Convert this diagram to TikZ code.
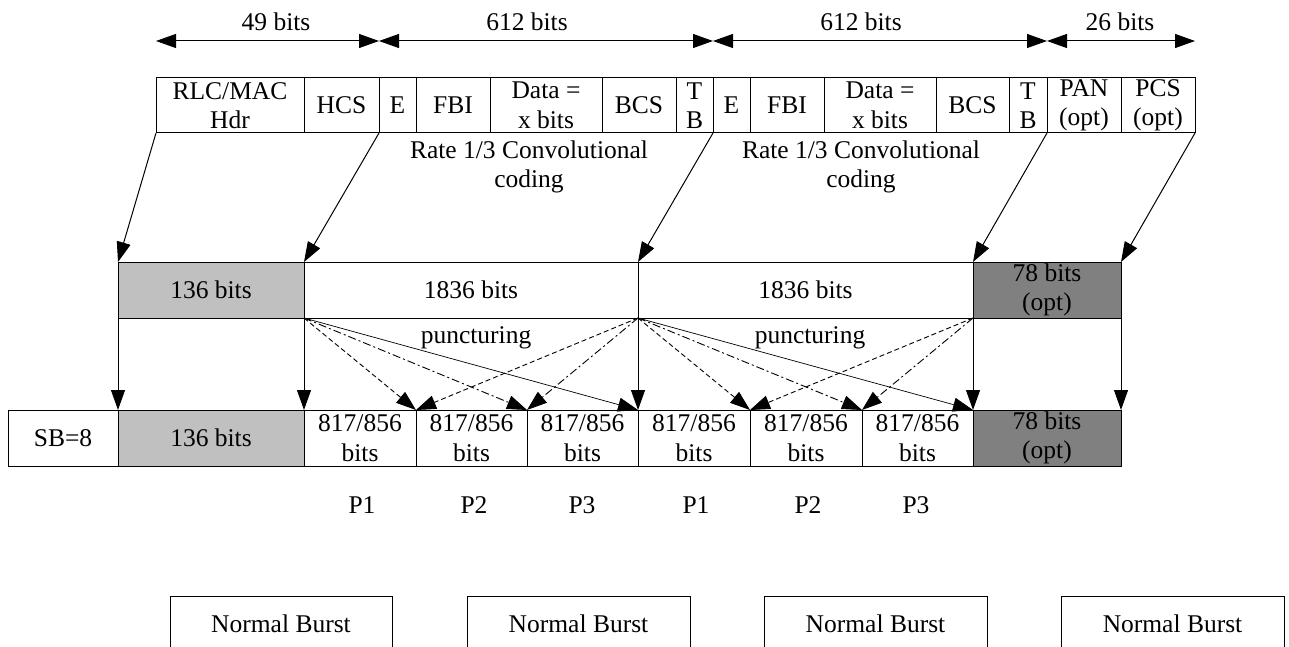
\documentclass[tikz,border=0pt]{standalone}
\usepackage{fontspec}
\setmainfont{Liberation Serif}
\usetikzlibrary{arrows.meta}
\definecolor{lgray}{HTML}{C0C0C0}
\definecolor{dgray}{HTML}{808080}
\newcommand{\mkcell}[7]{\node[cell,#1,minimum width={#4-#3},minimum height={#6-#5}] (#2) at ({(#3+#4)/2},{(#5+#6)/2}) {#7};}
\begin{document}
\begin{tikzpicture}[x=1pt,y=-1pt,
  every node/.style={font=\fontsize{25.5}{29.5}\selectfont},
  cell/.style={draw,line width=1pt,inner sep=0pt,outer sep=0pt,align=center},
  lbl/.style={inner sep=0pt,align=center},
  arr/.style={-{Triangle[length=20pt,width=14pt]},line width=1pt},
  dimarr/.style={{Triangle[length=20pt,width=14pt]}-{Triangle[length=20pt,width=14pt]},line width=1pt},
  dsh/.style={arr,line width=0.9pt,dash pattern=on 5pt off 3pt},
  dshdot/.style={arr,line width=0.9pt,dash pattern=on 8pt off 3pt on 2pt off 3pt},
  thinl/.style={arr,line width=0.7pt}]
\useasboundingbox (0,0) rectangle (1289,647);
\clip (0,0) rectangle (1289,647);
% top row
\mkcell{}{rlc}{156}{304}{78}{133}{RLC/MAC\\Hdr}
\mkcell{}{hcs}{304}{379}{78}{133}{HCS}
\mkcell{}{ea}{379}{416}{78}{133}{E}
\mkcell{}{fbia}{416}{490}{78}{133}{FBI}
\mkcell{}{dataa}{490}{602}{78}{133}{Data =\\x bits}
\mkcell{}{bcsa}{602}{676}{78}{133}{BCS}
\mkcell{}{tba}{676}{713}{78}{133}{T\\B}
\mkcell{}{eb}{713}{750}{78}{133}{E}
\mkcell{}{fbib}{750}{824}{78}{133}{FBI}
\mkcell{}{datab}{824}{936}{78}{133}{Data =\\x bits}
\mkcell{}{bcsb}{936}{1009}{78}{133}{BCS}
\mkcell{}{tbb}{1009}{1047}{78}{133}{T\\B}
\mkcell{}{pan}{1047}{1121}{78}{133}{PAN\\(opt)}
\mkcell{}{pcs}{1121}{1195}{78}{133}{PCS\\(opt)}
% dimension lines
\coordinate (d0) at (156,41);
\coordinate (d1) at (379,41);
\coordinate (d2) at (713,41);
\coordinate (d3) at (1047,41);
\coordinate (d4) at (1195,41);
\draw[dimarr] (d0) -- (d1);
\draw[dimarr] (d1) -- (d2);
\draw[dimarr] (d2) -- (d3);
\draw[dimarr] (d3) -- (d4);
\node[lbl] (l49) at (276,22) {49 bits};
\node[lbl] (l612a) at (527,22) {612 bits};
\node[lbl] (l612b) at (861,22) {612 bits};
\node[lbl] (l26) at (1120,22) {26 bits};
\node[lbl] (ratea) at (529,167) {Rate 1/3 Convolutional\\coding};
\node[lbl] (rateb) at (861,167) {Rate 1/3 Convolutional\\coding};
% middle row
\mkcell{fill=lgray}{ma}{118}{304}{262}{318}{136 bits}
\mkcell{}{mb}{304}{638}{262}{318}{1836 bits}
\mkcell{}{mc}{638}{973}{262}{318}{1836 bits}
\mkcell{fill=dgray}{md}{973}{1121}{262}{318}{78 bits\\(opt)}
% bottom row
\mkcell{}{sb}{8}{118}{410}{466}{SB=8}
\mkcell{fill=lgray}{ba}{118}{304}{410}{466}{136 bits}
\mkcell{}{pa}{304}{416}{410}{466}{817/856\\bits}
\mkcell{}{pb}{416}{527}{410}{466}{817/856\\bits}
\mkcell{}{pc}{527}{638}{410}{466}{817/856\\bits}
\mkcell{}{pd}{638}{750}{410}{466}{817/856\\bits}
\mkcell{}{pe}{750}{862}{410}{466}{817/856\\bits}
\mkcell{}{pf}{862}{973}{410}{466}{817/856\\bits}
\mkcell{fill=dgray}{bd}{973}{1121}{410}{466}{78 bits\\(opt)}
% labels
\node[lbl] (punca) at (476,338) {puncturing};
\node[lbl] (puncb) at (810,338) {puncturing};
\node[lbl] (p1a) at (362,505) {P1};
\node[lbl] (p2a) at (474,505) {P2};
\node[lbl] (p3a) at (582,505) {P3};
\node[lbl] (p1b) at (696,505) {P1};
\node[lbl] (p2b) at (808,505) {P2};
\node[lbl] (p3b) at (916,505) {P3};
% normal bursts
\mkcell{}{nba}{170}{392}{596}{652}{Normal Burst}
\mkcell{}{nbb}{467}{690}{596}{652}{Normal Burst}
\mkcell{}{nbc}{764}{987}{596}{652}{Normal Burst}
\mkcell{}{nbd}{1061}{1284}{596}{652}{Normal Burst}
% top to middle
\draw[arr] (rlc.south west) -- (ma.north west);
\draw[arr] (hcs.south east) -- (mb.north west);
\draw[arr] (tba.south east) -- (mc.north west);
\draw[arr] (tbb.south east) -- (md.north west);
\draw[arr] (pcs.south east) -- (md.north east);
% middle to bottom
\draw[arr] (ma.south west) -- (ba.north west);
\draw[arr] (mb.south west) -- (pa.north west);
\draw[arr] (mc.south west) -- (pd.north west);
\draw[arr] (md.south west) -- (bd.north west);
\draw[arr] (md.south east) -- (bd.north east);
% puncturing
\draw[dsh] (mb.south west) -- (pa.north east);
\draw[dshdot] (mb.south west) -- (pb.north east);
\draw[thinl] (mb.south west) -- (pc.north east);
\draw[dsh] (mb.south east) -- (pa.north east);
\draw[dshdot] (mb.south east) -- (pb.north east);
\draw[dsh] (mc.south west) -- (pd.north east);
\draw[dshdot] (mc.south west) -- (pe.north east);
\draw[thinl] (mc.south west) -- (pf.north east);
\draw[dsh] (mc.south east) -- (pd.north east);
\draw[dshdot] (mc.south east) -- (pe.north east);
\end{tikzpicture}
\end{document}
